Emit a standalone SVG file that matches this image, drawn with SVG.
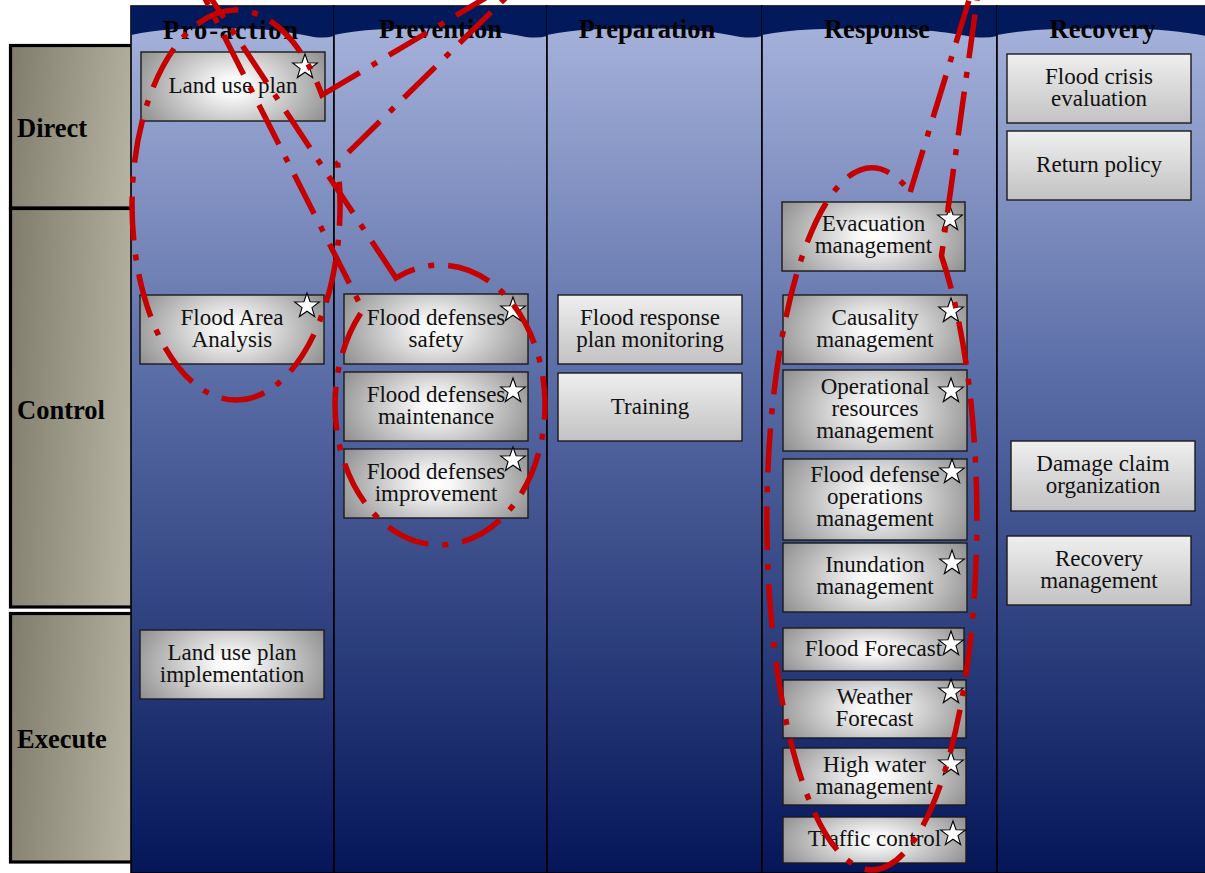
<svg xmlns="http://www.w3.org/2000/svg" width="1205" height="873" viewBox="0 0 1205 873">
  <defs>
    <!-- lane body: light periwinkle fading to deep navy -->
    <linearGradient id="laneFill" x1="0" y1="0" x2="0" y2="1">
      <stop offset="0" stop-color="#a9b5dd"/>
      <stop offset="0.45" stop-color="#5669a3"/>
      <stop offset="1" stop-color="#041658"/>
    </linearGradient>
    <!-- row header fill: khaki grey -->
    <linearGradient id="rowFill" x1="0" y1="0" x2="1" y2="0.15">
      <stop offset="0" stop-color="#7f7c6b"/>
      <stop offset="1" stop-color="#b5b2a2"/>
    </linearGradient>
    <!-- starred activity: white centre, grey rim -->
    <radialGradient id="boxRadial" cx="0.5" cy="0.5" r="0.5" gradientTransform="translate(0.5 0.5) scale(1.2 2) translate(-0.5 -0.5)">
      <stop offset="0" stop-color="#ffffff"/>
      <stop offset="0.15" stop-color="#f7f7f7"/>
      <stop offset="1" stop-color="#8a8a8a"/>
    </radialGradient>
    <!-- plain activity: light to mid grey top-down -->
    <linearGradient id="boxLinear" x1="0" y1="0" x2="0" y2="1">
      <stop offset="0" stop-color="#efefef"/>
      <stop offset="1" stop-color="#c2c2c2"/>
    </linearGradient>
    <path id="star" d="M0,-13 L3.06,-4.21 L12.36,-4.02 L4.95,1.61 L7.64,10.52 L0,5.2 L-7.64,10.52 L-4.95,1.61 L-12.36,-4.02 L-3.06,-4.21 Z"/>
    <style>
      .lane { fill: url(#laneFill); stroke: #000; stroke-width: 1.6; }
      .band { fill: #021a5c; }
      .lane-title { font-family: "Liberation Serif", "Times New Roman", serif; font-weight: bold; font-size: 26.5px; fill: #000; text-anchor: middle; }
      .row { fill: url(#rowFill); stroke: #000; stroke-width: 3.2; }
      .row-title { font-family: "Liberation Serif", "Times New Roman", serif; font-weight: bold; font-size: 26.5px; fill: #000; }
      .box-r { fill: url(#boxRadial); stroke: #1a1a1a; stroke-width: 1.4; }
      .box-l { fill: url(#boxLinear); stroke: #1a1a1a; stroke-width: 1.4; }
      .label { font-family: "Liberation Serif", "Times New Roman", serif; font-size: 23px; fill: #111; text-anchor: middle; }
      .star { fill: #ffffff; stroke: #000; stroke-width: 1.1; }
      .callout { fill: none; stroke: #c40000; stroke-width: 5.5; stroke-dasharray: 44 14 6 14; stroke-linejoin: miter; }
    </style>
  </defs>

  <rect width="1205" height="873" fill="#ffffff"/>

  <!-- row headers (partly covered by the lanes) -->
  <g id="row-direct">
    <rect class="row" x="10.5" y="45.5" width="130" height="162.5"/>
    <text class="row-title" x="17" y="137">Direct</text>
  </g>
  <g id="row-control">
    <rect class="row" x="10.5" y="208.5" width="130" height="398.5"/>
    <text class="row-title" x="17" y="419">Control</text>
  </g>
  <g id="row-execute">
    <rect class="row" x="10.5" y="613.5" width="130" height="248.5"/>
    <text class="row-title" x="17" y="748">Execute</text>
  </g>

  <!-- phase lanes -->
  <g id="lane-proaction">
    <rect class="lane" x="131" y="6" width="203" height="867"/>
    <path class="band" d="M131,6 H334 V36 Q325.9,38.5 313.7,37 C293.4,33 273.1,28.5 232.5,28.5 C191.9,28.5 161.5,28 131,35 Z"/>
    <text class="lane-title" x="230.5" y="39" textLength="135" lengthAdjust="spacing">Pro-action</text>
  </g>
  <g id="lane-prevention">
    <rect class="lane" x="334" y="6" width="213" height="867"/>
    <path class="band" d="M334,6 H547 V36 Q538.5,38.5 525.7,37 C504.4,33 483.1,28.5 440.5,28.5 C397.9,28.5 366,28 334,35 Z"/>
    <text class="lane-title" x="440.5" y="38">Prevention</text>
  </g>
  <g id="lane-preparation">
    <rect class="lane" x="547" y="6" width="215" height="867"/>
    <path class="band" d="M547,6 H762 V36 Q753.4,38.5 740.5,37 C719,33 697.5,28.5 654.5,28.5 C611.5,28.5 579.3,28 547,35 Z"/>
    <text class="lane-title" x="647" y="38">Preparation</text>
  </g>
  <g id="lane-response">
    <rect class="lane" x="762" y="6" width="235" height="867"/>
    <path class="band" d="M762,6 H997 V36 Q987.6,38.5 973.5,37 C950,33 926.5,28.5 879.5,28.5 C832.5,28.5 797.3,28 762,35 Z"/>
    <text class="lane-title" x="877" y="38">Response</text>
  </g>
  <g id="lane-recovery">
    <rect class="lane" x="997" y="6" width="240" height="867"/>
    <path class="band" d="M997,6 H1237 V36 Q1227.4,38.5 1213,37 C1189,33 1165,28.5 1117,28.5 C1069,28.5 1033,28 997,35 Z"/>
    <text class="lane-title" x="1102.5" y="38">Recovery</text>
  </g>

  <!-- Pro-action activities -->
  <g id="land-use-plan">
    <rect class="box-r" x="141" y="52" width="184" height="69"/>
    <text class="label" x="233" y="93">Land use plan</text>
    <use href="#star" class="star" x="305" y="67"/>
  </g>
  <g id="flood-area-analysis">
    <rect class="box-r" x="140" y="295" width="184" height="69"/>
    <text class="label" x="232" y="325">Flood Area</text>
    <text class="label" x="232" y="347">Analysis</text>
    <use href="#star" class="star" x="307" y="306"/>
  </g>
  <g id="land-use-plan-implementation">
    <rect class="box-r" x="140" y="630" width="184" height="69"/>
    <text class="label" x="232" y="660">Land use plan</text>
    <text class="label" x="232" y="682">implementation</text>
  </g>

  <!-- Prevention activities -->
  <g id="flood-defenses-safety">
    <rect class="box-r" x="344" y="294" width="184" height="70"/>
    <text class="label" x="436" y="324.5">Flood defenses</text>
    <text class="label" x="436" y="346.5">safety</text>
    <use href="#star" class="star" x="513" y="310"/>
  </g>
  <g id="flood-defenses-maintenance">
    <rect class="box-r" x="344" y="372" width="184" height="69"/>
    <text class="label" x="436" y="402">Flood defenses</text>
    <text class="label" x="436" y="424">maintenance</text>
    <use href="#star" class="star" x="513" y="391"/>
  </g>
  <g id="flood-defenses-improvement">
    <rect class="box-r" x="344" y="449" width="184" height="69"/>
    <text class="label" x="436" y="479">Flood defenses</text>
    <text class="label" x="436" y="501">improvement</text>
    <use href="#star" class="star" x="513" y="460"/>
  </g>

  <!-- Preparation activities -->
  <g id="flood-response-plan-monitoring">
    <rect class="box-l" x="558" y="295" width="184" height="69"/>
    <text class="label" x="650" y="325">Flood response</text>
    <text class="label" x="650" y="347">plan monitoring</text>
  </g>
  <g id="training">
    <rect class="box-l" x="558" y="373" width="184" height="68"/>
    <text class="label" x="650" y="413.5">Training</text>
  </g>

  <!-- Response activities -->
  <g id="evacuation-management">
    <rect class="box-r" x="782" y="202" width="183" height="69"/>
    <text class="label" x="873.5" y="231">Evacuation</text>
    <text class="label" x="873.5" y="253">management</text>
    <use href="#star" class="star" x="950" y="219"/>
  </g>
  <g id="causality-management">
    <rect class="box-r" x="783" y="295" width="184" height="69"/>
    <text class="label" x="875" y="325">Causality</text>
    <text class="label" x="875" y="347">management</text>
    <use href="#star" class="star" x="951" y="311"/>
  </g>
  <g id="operational-resources-management">
    <rect class="box-r" x="783" y="370" width="184" height="81"/>
    <text class="label" x="875" y="394">Operational</text>
    <text class="label" x="875" y="416">resources</text>
    <use href="#star" class="star" x="951" y="391"/>
    <text class="label" x="875" y="438">management</text>
  </g>
  <g id="flood-defense-operations-management">
    <rect class="box-r" x="783" y="459" width="184" height="81"/>
    <text class="label" x="875" y="482">Flood defense</text>
    <text class="label" x="875" y="504">operations</text>
    <text class="label" x="875" y="526">management</text>
    <use href="#star" class="star" x="952" y="472"/>
  </g>
  <g id="inundation-management">
    <rect class="box-r" x="783" y="543" width="184" height="69"/>
    <text class="label" x="875" y="572">Inundation</text>
    <text class="label" x="875" y="594">management</text>
    <use href="#star" class="star" x="952" y="563"/>
  </g>
  <g id="flood-forecast">
    <rect class="box-r" x="783" y="628" width="181" height="43"/>
    <text class="label" x="873.5" y="655.5">Flood Forecast</text>
    <use href="#star" class="star" x="951" y="644"/>
  </g>
  <g id="weather-forecast">
    <rect class="box-r" x="783" y="680" width="183" height="58"/>
    <text class="label" x="874.5" y="703.5">Weather</text>
    <text class="label" x="874.5" y="726">Forecast</text>
    <use href="#star" class="star" x="951" y="692"/>
  </g>
  <g id="high-water-management">
    <rect class="box-r" x="783" y="748" width="183" height="57"/>
    <text class="label" x="874.5" y="772">High water</text>
    <text class="label" x="874.5" y="794">management</text>
    <use href="#star" class="star" x="951" y="764"/>
  </g>
  <g id="traffic-control">
    <rect class="box-r" x="783" y="817" width="183" height="46"/>
    <text class="label" x="874.5" y="846">Traffic control</text>
    <use href="#star" class="star" x="953" y="834"/>
  </g>

  <!-- Recovery activities -->
  <g id="flood-crisis-evaluation">
    <rect class="box-l" x="1007" y="54" width="184" height="69"/>
    <text class="label" x="1099" y="84">Flood crisis</text>
    <text class="label" x="1099" y="106">evaluation</text>
  </g>
  <g id="return-policy">
    <rect class="box-l" x="1007" y="131" width="184" height="69"/>
    <text class="label" x="1099" y="172">Return policy</text>
  </g>
  <g id="damage-claim-organization">
    <rect class="box-l" x="1011" y="441" width="184" height="70"/>
    <text class="label" x="1103" y="471">Damage claim</text>
    <text class="label" x="1103" y="493">organization</text>
  </g>
  <g id="recovery-management">
    <rect class="box-l" x="1007" y="536" width="184" height="69"/>
    <text class="label" x="1099" y="566">Recovery</text>
    <text class="label" x="1099" y="588">management</text>
  </g>

  <!-- dash-dot wedge callouts, each pointing off the top edge -->
  <g id="callouts">
    <path class="callout" d="M321.9,95 L536,-32 L337.6,163 A104,195 0 1 1 321.9,95 Z"/>
    <path class="callout" d="M396,277.9 L185,-41 L362.9,310 A105,140 0 1 0 396,277.9 Z"/>
    <path class="callout" d="M910.2,192 L983.5,-47 L941.5,256 A105,351 0 1 1 910.2,192 Z"/>
  </g>
</svg>
